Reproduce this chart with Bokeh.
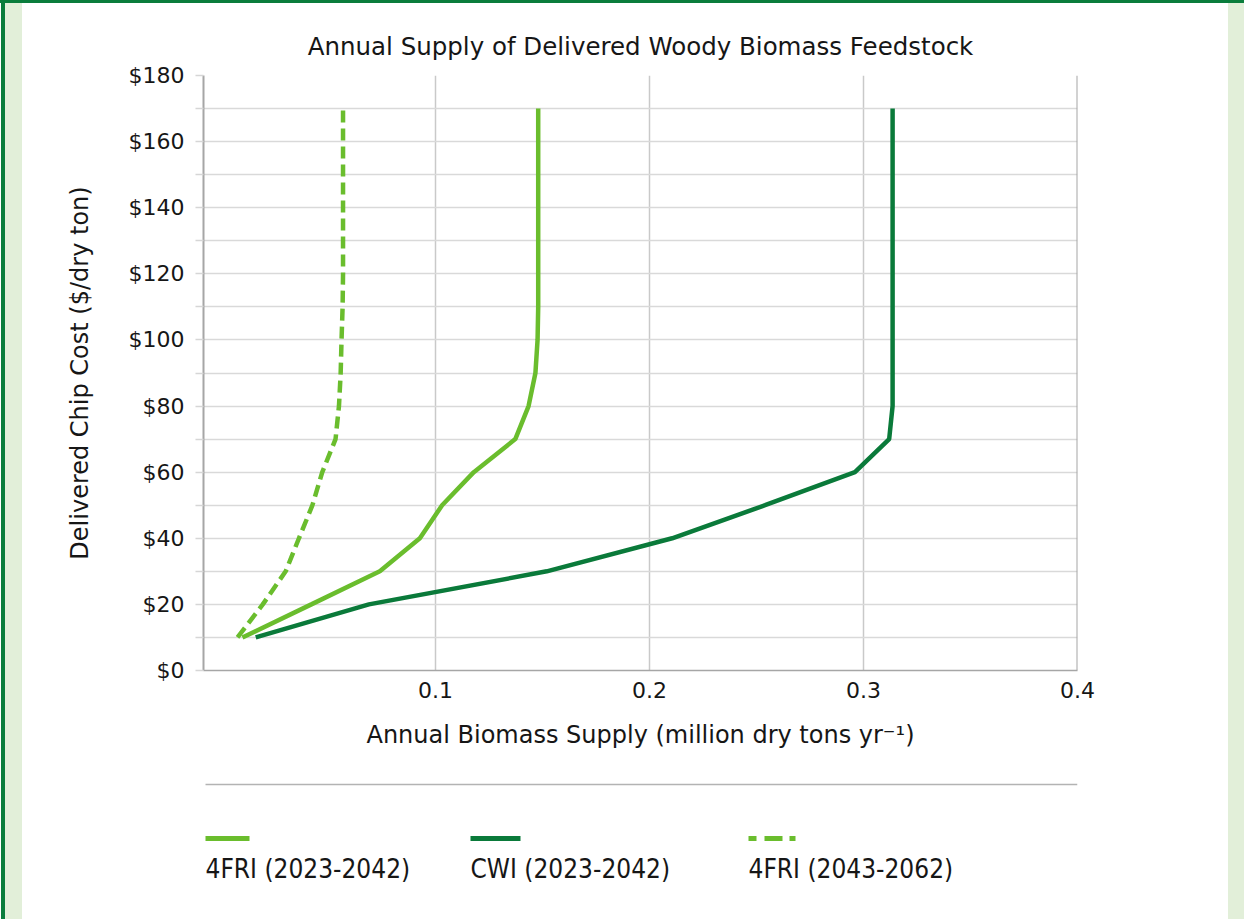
from bokeh.plotting import figure
from bokeh.layouts import row, column
from bokeh.models import Range1d, FixedTicker, Span, Div
from bokeh.core.properties import value
from bokeh.embed import file_html
from bokeh.resources import INLINE

# ---------------- data ----------------
cost = [10, 20, 30, 40, 50, 60, 70, 80, 90, 100, 110, 120, 130, 140, 150, 160, 170]
fri_2023_2042 = [0.0098, 0.042, 0.074, 0.0927, 0.1031, 0.1179, 0.1373, 0.1435, 0.1467,
                 0.1477, 0.148, 0.148, 0.148, 0.148, 0.148, 0.148, 0.148]
cwi_2023_2042 = [0.016, 0.0689, 0.152, 0.2106, 0.254, 0.296, 0.312, 0.3136, 0.3136,
                 0.3136, 0.3136, 0.3136, 0.3136, 0.3136, 0.3136, 0.3136, 0.3136]
fri_2043_2062 = [0.0075, 0.0193, 0.030, 0.0362, 0.0425, 0.0471, 0.0533, 0.0549, 0.0557,
                 0.0561, 0.0566, 0.0568, 0.0568, 0.0568, 0.0568, 0.0568, 0.0568]
series_names = ["4FRI (2023-2042)", "CWI (2023-2042)", "4FRI (2043-2062)"]

y_ticks = [0, 10, 20, 30, 40, 50, 60, 70, 80, 90, 100, 110, 120, 130, 140, 150, 160, 170, 180]
y_tick_labels = ["$0", "", "$20", "", "$40", "", "$60", "", "$80", "", "$100", "", "$120", "",
                 "$140", "", "$160", "", "$180"]
x_ticks = [0.1, 0.2, 0.3, 0.4]
x_tick_labels = ["0.1", "0.2", "0.3", "0.4"]

LIGHT = "#6abd2d"
DARK = "#0a7a3a"
BAND = "#e2efd9"
FRAME_GREEN = "#0a7d3c"
TXT = "#161616"
FONT = "DejaVu Sans"

W, H = 1244, 919
BL, BR = 22, 16          # side band widths
CW = W - BL - BR         # central column width
TOP = 3                  # top green strip
MAIN_H = 765
LEG_H = H - TOP - MAIN_H
FL, FR = 181, 1055       # plot frame left/right inside the central column

# ---------------- main chart ----------------
p = figure(width=CW, height=MAIN_H,
           x_range=Range1d(-0.0084, 0.4), y_range=Range1d(0, 180),
           output_backend="svg", toolbar_location=None,
           min_border_left=FL, min_border_right=CW - FR,
           min_border_top=72, min_border_bottom=MAIN_H - 667,
           title="Annual Supply of Delivered Woody Biomass Feedstock")
p.outline_line_color = None
p.background_fill_color = "white"
p.border_fill_color = "white"

p.title.align = "center"
p.title.text_font = FONT
p.title.text_font_size = "24.5px"
p.title.text_font_style = "normal"
p.title.text_color = TXT
p.title.standoff = 29

p.yaxis.ticker = FixedTicker(ticks=y_ticks)
p.yaxis.major_label_overrides = {t: l for t, l in zip(y_ticks, y_tick_labels)}
p.yaxis.minor_tick_line_color = None
p.yaxis.major_tick_out = 8
p.yaxis.major_tick_in = 0
p.yaxis.major_tick_line_color = "#d6d6d6"
p.yaxis.major_tick_line_width = 1.5
p.yaxis.axis_line_color = "#a6a6a6"
p.yaxis.axis_line_width = 2
p.yaxis.major_label_standoff = 11
p.yaxis.major_label_text_font = FONT
p.yaxis.major_label_text_font_size = "22px"
p.yaxis.major_label_text_color = TXT
p.yaxis.axis_label = "Delivered Chip Cost ($/dry ton)"
p.yaxis.axis_label_text_font = FONT
p.yaxis.axis_label_text_font_size = "24px"
p.yaxis.axis_label_text_font_style = "normal"
p.yaxis.axis_label_text_color = TXT
p.yaxis.axis_label_standoff = 32

p.xaxis.ticker = FixedTicker(ticks=x_ticks)
p.xaxis.major_label_overrides = {t: l for t, l in zip(x_ticks, x_tick_labels)}
p.xaxis.minor_tick_line_color = None
p.xaxis.major_tick_out = 0
p.xaxis.major_tick_in = 0
p.xaxis.axis_line_color = "#a6a6a6"
p.xaxis.axis_line_width = 1.5
p.xaxis.major_label_standoff = 11
p.xaxis.major_label_text_font = FONT
p.xaxis.major_label_text_font_size = "22px"
p.xaxis.major_label_text_color = TXT
p.xaxis.axis_label = "Annual Biomass Supply (million dry tons yr\u207b\u00b9)"
p.xaxis.axis_label_text_font = FONT
p.xaxis.axis_label_text_font_size = "24px"
p.xaxis.axis_label_text_font_style = "normal"
p.xaxis.axis_label_text_color = TXT
p.xaxis.axis_label_standoff = 20

p.ygrid.ticker = FixedTicker(ticks=y_ticks)
p.ygrid.grid_line_color = "#d9d9d9"
p.ygrid.grid_line_width = 1.5
p.xgrid.ticker = FixedTicker(ticks=x_ticks)
p.xgrid.grid_line_color = "#c9c9c9"
p.xgrid.grid_line_width = 1.5

p.add_layout(Span(location=x_ticks[-1], dimension="height", line_color="#a6a6a6", line_width=2))

p.line(fri_2043_2062, cost, line_color=LIGHT, line_width=4.5, line_dash="12 6")
p.line(fri_2023_2042, cost, line_color=LIGHT, line_width=4.5)
p.line(cwi_2023_2042, cost, line_color=DARK, line_width=4.5)

# ---------------- legend panel (sample above label), frame aligned with the chart ----------------
lg = figure(width=CW, height=LEG_H, x_range=Range1d(FL, FR), y_range=Range1d(LEG_H, 0),
            output_backend="svg", toolbar_location=None,
            min_border_left=FL, min_border_right=CW - FR, min_border_top=0, min_border_bottom=0,
            x_axis_location=None, y_axis_location=None)
lg.outline_line_color = None
lg.grid.visible = False
lg.background_fill_color = "white"
lg.border_fill_color = "white"
lg.segment(x0=[183], y0=[16], x1=[FR], y1=[16], line_color="#b3b3b3", line_width=1.5)
leg_x = [183, 448, 726]
lg.quad(left=[leg_x[0]], right=[leg_x[0] + 44], top=[67.5], bottom=[72.5],
        fill_color=LIGHT, line_color=None)
lg.quad(left=[leg_x[1]], right=[leg_x[1] + 50], top=[67.5], bottom=[72.5],
        fill_color=DARK, line_color=None)
lg.quad(left=[leg_x[2], leg_x[2] + 16, leg_x[2] + 41],
        right=[leg_x[2] + 8, leg_x[2] + 34, leg_x[2] + 47],
        top=[67.5] * 3, bottom=[72.5] * 3, fill_color=LIGHT, line_color=None)
lg.text(x=leg_x, y=[100] * 3, text=series_names,
        text_font=value("DejaVu Sans Condensed"), text_font_size="26px",
        text_color=TXT, text_align="left", text_baseline="middle")

# ---------------- decorative frame (plain HTML blocks) ----------------
top_strip = Div(text="", width=CW, height=TOP,
                styles={"background-color": FRAME_GREEN, "margin": "0", "padding": "0"})
band_l = Div(text="", width=BL, height=H,
             styles={"margin": "0", "padding": "0",
                     "background": (f"linear-gradient(to bottom, {FRAME_GREEN} 0px, {FRAME_GREEN} {TOP}px, "
                                    f"transparent {TOP}px), "
                                    f"linear-gradient(to right, #ffffff 0px, #ffffff 1px, {FRAME_GREEN} 1px, "
                                    f"{FRAME_GREEN} 5px, {BAND} 5px, {BAND} {BL}px)")})
band_r = Div(text="", width=BR, height=H,
             styles={"margin": "0", "padding": "0",
                     "background": (f"linear-gradient(to bottom, {FRAME_GREEN} 0px, {FRAME_GREEN} {TOP}px, "
                                    f"{BAND} {TOP}px, {BAND} {H}px)")})

layout = row(band_l, column(top_strip, p, lg), band_r)
open("out.html", "w").write(file_html(layout, INLINE))
